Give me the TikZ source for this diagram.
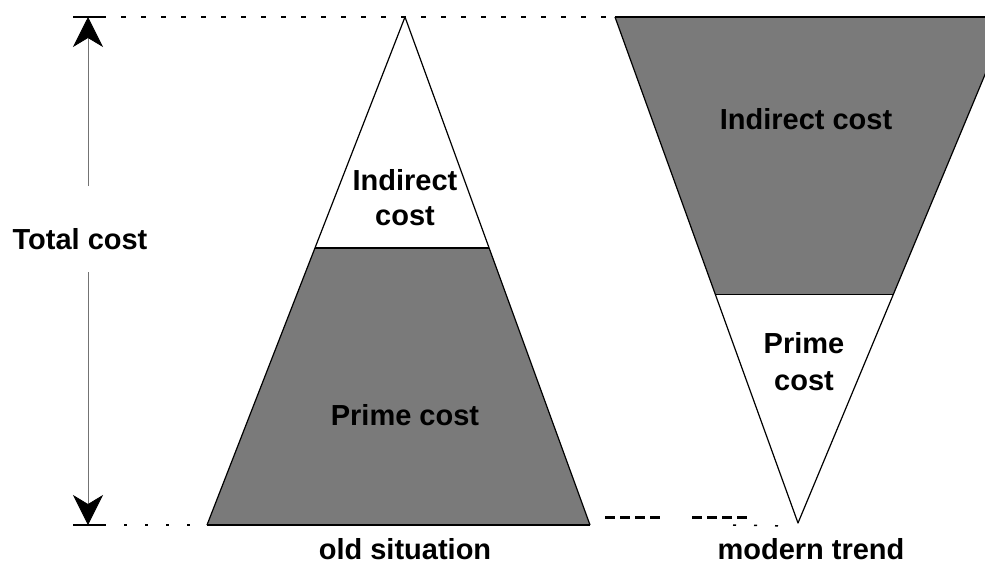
\documentclass[tikz,border=0pt]{standalone}
\usepackage{fontspec}
\setmainfont{Liberation Sans}
\usetikzlibrary{arrows.meta,calc}
\begin{document}
\begin{tikzpicture}[x=1pt,y=-1pt,
  lbl/.style={font=\fontsize{29}{35}\selectfont\bfseries, align=center, inner sep=0pt},
  halftone/.style={fill=black!52},
  edge/.style={draw=black, line width=1.2pt, line join=round},
  heavy/.style={draw=black, line width=2pt},
  guide/.style={draw=black, line width=1.5pt, dash pattern=on 5pt off 15pt},
  dots/.style={draw=black, line width=1.5pt, dash pattern=on 3pt off 18pt},
  bars/.style={draw=black, line width=3pt, dash pattern=on 10pt off 5pt},
  span/.style={draw=black!55, line width=0.8pt},
  tip/.style={-{Stealth[length=30pt,width=30pt,inset=9pt,color=black]}}]
\useasboundingbox (0,0) rectangle (985,565);
\clip (0,0) rectangle (985,565);

% key points
\coordinate (oA) at (405,17);   % apex, old situation
\coordinate (oL) at (207,525);
\coordinate (oR) at (590,525);
\coordinate (oSL) at ($(oA)!0.4547!(oL)$);
\coordinate (oSR) at ($(oA)!0.4547!(oR)$);
\coordinate (nL) at (615,17);   % top corners, modern trend
\coordinate (nR) at (1009,17);
\coordinate (nA) at (798,523);
\coordinate (nSL) at ($(nL)!0.549!(nA)$);
\coordinate (nSR) at ($(nR)!0.549!(nA)$);

% old situation: shaded prime cost, white indirect cost
\fill[halftone] (oL) -- (oSL) -- (oSR) -- (oR) -- cycle;
\draw[edge] (oL) -- (oA) -- (oR);
\draw[heavy] (oL) -- (oR);
\draw[edge] (oSL) -- (oSR);

% modern trend: shaded indirect cost, white prime cost
\fill[halftone] (nL) -- (nR) -- (nSR) -- (nSL) -- cycle;
\draw[edge] (nL) -- (nA) -- (nR);
\draw[heavy] (nL) -- (nR);
\draw[edge] (nSL) -- (nSR);

% total cost span
\coordinate (tTop) at (88,17);
\coordinate (tBot) at (88,525);
\coordinate (tUp) at (88,186);
\coordinate (tLo) at (88,272);
\coordinate (barTL) at (73,17);
\coordinate (barTR) at (101,17);
\coordinate (barBL) at (73,525);
\coordinate (barBR) at (103,525);
\draw[span,tip] (tUp) -- (tTop);
\draw[span,tip] (tLo) -- (tBot);
\draw[heavy] (barTL) -- (barTR);
\draw[heavy] (barBL) -- (barBR);

% guide lines
\draw[guide] (barTR) -- (nL);
\draw[dots] (barBR) -- (oL);
\coordinate (g1a) at (605,517); \coordinate (g1b) at (662,517);
\coordinate (g2a) at (692,517); \coordinate (g2b) at (749,517);
\coordinate (g3a) at (733,525); \coordinate (g3b) at (790,526);
\draw[bars] (g1a) -- (g1b);
\draw[bars] (g2a) -- (g2b);
\draw[dots] (g3a) -- (g3b);

% labels
\node[lbl, anchor=base] (total) at (80,249) {Total cost};
\node[lbl] (oInd) at (405,198) {Indirect\\cost};
\node[lbl, anchor=base] (oPrime) at (405,425) {Prime cost};
\node[lbl, anchor=base] (nInd) at (806,129) {Indirect cost};
\node[lbl, font=\fontsize{29}{37}\selectfont\bfseries] (nPrime) at (804,362) {Prime\\cost};
\node[lbl, anchor=base] (oCap) at (405,559) {old situation};
\node[lbl, anchor=base] (nCap) at (811,559) {modern trend};
\end{tikzpicture}
\end{document}
